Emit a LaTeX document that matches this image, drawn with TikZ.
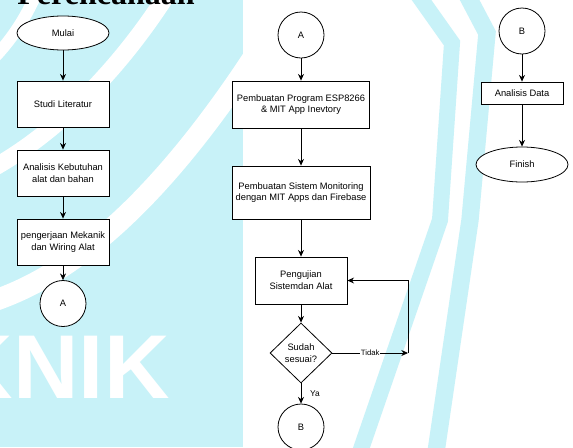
\documentclass[tikz,border=0pt]{standalone}
\usepackage{fontspec}
\setmainfont{Liberation Sans}
\newfontfamily\headfont{Liberation Serif}
\usetikzlibrary{arrows.meta,shapes.geometric}
\definecolor{wmcyan}{HTML}{C8F2F8}

\begin{document}
\begin{tikzpicture}[x=0.75pt,y=-0.75pt,>={Stealth[length=5pt,width=4.5pt]},line width=0.6pt,font=\fontsize{7}{8.8}\selectfont]
\tikzstyle{proc}=[draw,fill=white,align=center,minimum width=69pt,minimum height=34.5pt,inner sep=2pt]
\tikzstyle{term}=[draw,fill=white,ellipse,minimum width=69pt,minimum height=25.5pt]
\tikzstyle{conn}=[draw,fill=white,circle,minimum size=34.5pt,inner sep=0pt]
\tikzstyle{cond}=[draw,fill=white,diamond,align=center,minimum width=46.5pt,minimum height=45pt,inner sep=0pt]
\tikzstyle{lbl}=[inner sep=0.6pt,font=\fontsize{5.8}{6}\selectfont]
\clip (0,0) rectangle (573,447);
% watermark behind the chart
\fill[white] (0,0) rectangle (573,447);
\fill[wmcyan] (0,0) rectangle (243,447);
\draw[white,line width=16pt] (-20,305) .. controls (70,280) and (160,200) .. (255,55);
\draw[white,line width=13pt] (-20,175) .. controls (40,145) and (110,85) .. (170,-10);
\draw[white,line width=9pt] (-10,62) .. controls (10,42) and (25,20) .. (38,-10);
\draw[wmcyan,line width=12pt] (418,-5) -- (452,43) -- (440,220) -- (360,452);
\draw[wmcyan,line width=13pt] (467,-5) -- (487,33) -- (470,220) -- (436,452);
\node[anchor=base east,inner sep=0,text=white] (wmtext) at (170,398) {\fontsize{68}{68}\selectfont\bfseries KNIK};
\node[anchor=base west,inner sep=0] (judul) at (17,4) {\headfont\bfseries\fontsize{24}{24}\selectfont Perencanaan};
% left column
\node[term] (mulai) at (63,33) {Mulai};
\node[proc] (studi) at (63,104) {Studi Literatur};
\node[proc] (butuh) at (63,173) {Analisis Kebutuhan\\alat dan bahan};
\node[proc] (mekanik) at (63,242) {pengerjaan Mekanik\\dan Wiring Alat};
\node[conn] (ka) at (63,303.5) {A};
% middle column
\node[conn] (kaa) at (301,35) {A};
\node[proc,minimum width=102.75pt,minimum height=35.25pt] (program) at (301,104.5) {Pembuatan Program ESP8266\\\& MIT App Inevtory};
\node[proc,minimum width=103.5pt,minimum height=39.75pt] (monitor) at (301,192.5) {Pembuatan Sistem Monitoring\\dengan MIT Apps dan Firebase};
\node[proc,minimum height=35.25pt] (uji) at (301,280.5) {Pengujian\\Sistemdan Alat};
\node[cond] (cek) at (301,353) {Sudah\\sesuai?};
\node[conn] (kb) at (301,427) {B};
\coordinate (balik) at (408,353);
% right column
\node[conn] (kbb) at (522,31) {B};
\node[proc,minimum width=61.5pt,minimum height=16.5pt] (data) at (522,93) {Analisis Data};
\node[term,minimum height=26.25pt] (finish) at (522,164.5) {Finish};
\draw[->] (mulai) -- (studi);
\draw[->] (studi) -- (butuh);
\draw[->] (butuh) -- (mekanik);
\draw[->] (mekanik) -- (ka);
\draw[->] (kaa) -- (program);
\draw[->] (program) -- (monitor);
\draw[->] (monitor) -- (uji);
\draw[->] (uji) -- (cek);
\draw[->] (cek) -- node[lbl,right,xshift=6pt,font=\fontsize{6.3}{7}\selectfont]{Ya} (kb);
\draw[->] (cek) -- node[lbl,fill=white]{Tidak} (balik);
\draw[->] (balik) |- (uji);
\draw[->] (kbb) -- (data);
\draw[->] (data) -- (finish);
\end{tikzpicture}
\end{document}
